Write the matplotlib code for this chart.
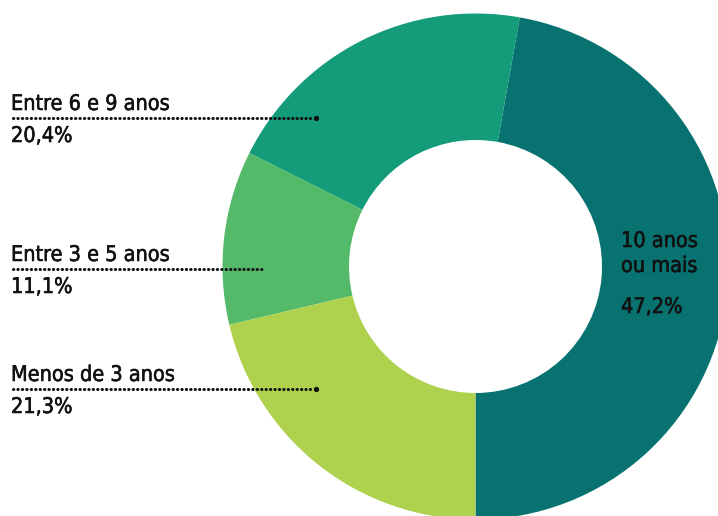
import matplotlib
matplotlib.use('Agg')
import matplotlib.pyplot as plt
import matplotlib.patheffects as pe

# share of respondents by time band (starting at 6 o'clock, going counter-clockwise)
categories = ['10 anos\nou mais', 'Entre 6 e 9 anos', 'Entre 3 e 5 anos', 'Menos de 3 anos']
shares = [47.2, 20.4, 11.1, 21.3]
colors = ['#077270', '#139b7a', '#54ba6a', '#aed24e']

W, H = 718, 516
CX, CY, R = 475.5, 266.5, 253


def fmt(v):
    return f'{v:.1f}%'.replace('.', ',')


def py(y):
    # pixel row (from top) -> data y
    return H - y


fig = plt.figure(figsize=(W / 100, H / 100), dpi=100)
ax = fig.add_axes([0, 0, 1, 1])
ax.pie(shares, colors=colors, startangle=-90, counterclock=True,
       radius=R, center=(CX, py(CY)),
       wedgeprops=dict(width=R / 2, linewidth=0))
ax.set_xlim(0, W)
ax.set_ylim(0, H)
ax.set_aspect('equal')
ax.axis('off')

ink = '#111111'
font = dict(family='DejaVu Sans', stretch='condensed', color=ink,
            path_effects=[pe.withStroke(linewidth=0.4, foreground=ink)])
size = 15.5

# left side callouts: (category index, dotted line row, line end, separate end dot)
callouts = [(1, 118, 310, True), (2, 269, 263, False), (3, 389, 310, True)]
for i, yline, xend, enddot in callouts:
    ax.plot([13, xend], [py(yline), py(yline)], color=ink, lw=2.2,
            dashes=(0.1, 1.35), dash_capstyle='round', zorder=5)
    if enddot:
        ax.plot([xend + 6], [py(yline)], 'o', color=ink, ms=2.8, zorder=5)
    ax.text(11, py(yline - 8), categories[i], ha='left', va='baseline', fontsize=size, **font)
    ax.text(11, py(yline + 24), fmt(shares[i]), ha='left', va='baseline', fontsize=size, **font)

# label inside the big slice
top, bottom = categories[0].split('\n')
ax.text(621, py(247), top, ha='left', va='baseline', fontsize=size, **font)
ax.text(621, py(272), bottom, ha='left', va='baseline', fontsize=size, **font)
ax.text(621, py(313), fmt(shares[0]), ha='left', va='baseline', fontsize=size, **font)

fig.savefig('out.png', dpi=100)
